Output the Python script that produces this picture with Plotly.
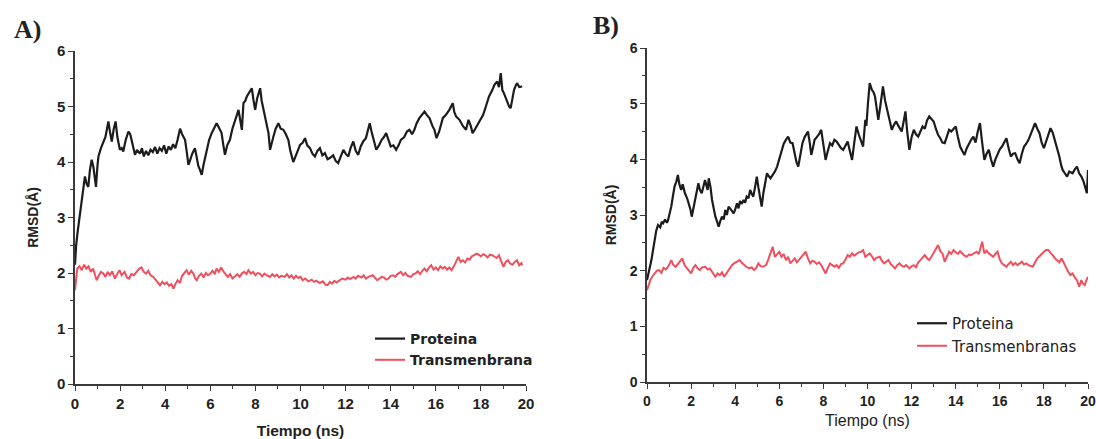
import plotly.graph_objects as go

# ---------------- Panel A data ----------------
time_a_prot = [0.0,0.05,0.12,0.2,0.28,0.37,0.44,0.52,0.59,0.66,0.74,0.82,0.88,0.93,1.0,1.04,1.15,1.26,1.35,1.42,1.48,1.55,1.63,1.72,1.8,1.88,1.95,1.99,2.07,2.14,2.25,2.37,2.45,2.51,2.6,2.66,2.75,2.88,2.97,3.05,3.15,3.25,3.35,3.45,3.55,3.65,3.75,3.85,3.95,4.05,4.15,4.25,4.35,4.45,4.55,4.66,4.75,4.88,4.95,5.03,5.12,5.2,5.32,5.4,5.47,5.55,5.62,5.7,5.78,5.84,5.95,6.06,6.15,6.28,6.38,6.5,6.58,6.65,6.75,6.87,6.98,7.1,7.18,7.25,7.32,7.4,7.47,7.55,7.62,7.72,7.84,7.92,7.99,8.08,8.21,8.28,8.36,8.45,8.58,8.65,8.72,8.8,8.9,9.02,9.12,9.24,9.35,9.46,9.55,9.68,9.78,9.9,9.98,10.1,10.2,10.3,10.42,10.53,10.64,10.75,10.86,10.97,11.08,11.2,11.3,11.45,11.56,11.67,11.78,11.9,12.0,12.12,12.22,12.34,12.45,12.56,12.67,12.78,12.9,12.98,13.07,13.15,13.25,13.36,13.48,13.6,13.7,13.8,13.9,14.0,14.12,14.24,14.35,14.45,14.6,14.72,14.83,14.95,15.05,15.15,15.27,15.4,15.5,15.6,15.72,15.85,15.94,16.03,16.15,16.31,16.45,16.6,16.75,16.82,16.9,17.05,17.2,17.34,17.45,17.55,17.63,17.75,17.85,18.0,18.1,18.22,18.36,18.51,18.6,18.72,18.8,18.88,18.95,19.02,19.1,19.17,19.25,19.32,19.4,19.47,19.55,19.61,19.7,19.83]
rmsd_a_prot = [2.15,2.5,2.75,3.0,3.15,3.44,3.74,3.6,3.55,3.85,4.04,3.9,3.75,3.55,3.95,4.1,4.25,4.37,4.45,4.6,4.73,4.55,4.37,4.6,4.73,4.45,4.3,4.22,4.25,4.19,4.4,4.55,4.5,4.4,4.25,4.13,4.22,4.15,4.25,4.1,4.2,4.12,4.22,4.18,4.27,4.15,4.25,4.2,4.3,4.15,4.28,4.22,4.32,4.25,4.4,4.6,4.5,4.4,4.2,3.95,4.05,4.15,4.25,4.1,3.93,3.85,3.77,3.95,4.1,4.22,4.4,4.52,4.6,4.7,4.62,4.52,4.3,4.13,4.3,4.4,4.6,4.73,4.85,4.94,4.75,4.58,5.06,5.1,5.18,5.25,5.33,5.1,4.94,5.15,5.33,5.1,4.94,4.75,4.52,4.22,4.35,4.46,4.6,4.7,4.6,4.58,4.5,4.4,4.2,4.0,4.1,4.22,4.31,4.35,4.43,4.3,4.25,4.15,4.1,4.2,4.25,4.12,4.16,4.05,4.07,4.12,4.02,3.98,4.1,4.22,4.15,4.1,4.25,4.37,4.2,4.13,4.28,4.37,4.43,4.55,4.7,4.55,4.4,4.22,4.3,4.4,4.45,4.52,4.4,4.28,4.3,4.22,4.3,4.4,4.45,4.55,4.58,4.5,4.58,4.7,4.79,4.85,4.91,4.85,4.79,4.65,4.58,4.43,4.55,4.79,4.85,4.94,5.06,4.9,4.82,4.76,4.65,4.58,4.76,4.65,4.52,4.6,4.67,4.76,4.85,5.0,5.18,5.3,5.39,5.45,5.35,5.6,5.3,5.24,5.15,5.09,5.0,4.97,5.15,5.3,5.38,5.42,5.35,5.36]

time_a_tm = [0.0,0.05,0.1,0.2,0.3,0.4,0.5,0.6,0.7,0.8,0.88,0.96,1.05,1.15,1.26,1.35,1.45,1.55,1.65,1.77,1.87,1.97,2.07,2.2,2.3,2.4,2.5,2.62,2.75,2.85,2.95,3.05,3.15,3.25,3.35,3.47,3.57,3.67,3.77,3.87,3.97,4.07,4.17,4.27,4.36,4.45,4.55,4.65,4.75,4.85,4.95,5.05,5.15,5.25,5.33,5.4,5.5,5.6,5.7,5.8,5.9,6.0,6.1,6.2,6.28,6.38,6.48,6.58,6.68,6.78,6.88,6.98,7.1,7.2,7.3,7.4,7.5,7.6,7.69,7.8,7.9,8.0,8.1,8.2,8.3,8.4,8.5,8.65,8.75,8.85,8.95,9.05,9.15,9.3,9.4,9.5,9.6,9.7,9.8,9.9,10.0,10.1,10.2,10.35,10.5,10.6,10.7,10.85,11.0,11.1,11.2,11.3,11.4,11.5,11.6,11.75,11.85,12.0,12.1,12.2,12.35,12.45,12.55,12.7,12.8,12.9,13.05,13.2,13.3,13.4,13.5,13.6,13.7,13.8,13.9,14.0,14.1,14.2,14.3,14.45,14.55,14.65,14.75,14.9,15.0,15.1,15.2,15.3,15.4,15.5,15.6,15.7,15.8,15.9,16.0,16.1,16.2,16.3,16.4,16.5,16.6,16.7,16.8,16.9,17.0,17.1,17.2,17.3,17.4,17.5,17.6,17.7,17.8,17.9,18.0,18.1,18.2,18.3,18.4,18.5,18.6,18.7,18.8,18.9,19.0,19.1,19.2,19.3,19.4,19.5,19.6,19.7,19.8,19.83]
rmsd_a_tm = [1.69,1.95,2.08,2.12,2.05,2.15,2.08,2.12,2.02,2.08,1.98,1.87,1.95,2.02,1.99,1.93,2.02,1.96,2.03,1.9,1.98,2.05,1.96,2.02,1.92,1.9,1.98,1.96,2.03,2.08,2.1,2.02,1.99,2.04,1.96,1.93,1.88,1.82,1.78,1.84,1.8,1.83,1.77,1.8,1.72,1.8,1.87,1.82,1.95,2.0,2.05,1.97,2.04,1.99,1.9,1.87,1.95,1.99,1.92,2.0,1.96,1.99,2.04,1.98,2.08,2.02,2.1,2.03,1.98,1.93,1.98,1.9,1.94,1.98,1.93,1.99,2.02,1.98,2.05,1.99,2.02,1.96,2.0,1.99,1.94,1.99,1.96,1.93,1.98,1.94,1.97,1.92,1.95,1.93,1.98,1.92,1.96,1.9,1.95,1.91,1.93,1.87,1.9,1.85,1.88,1.84,1.86,1.82,1.85,1.79,1.78,1.84,1.81,1.86,1.83,1.87,1.9,1.88,1.92,1.89,1.93,1.9,1.95,1.92,1.96,1.9,1.94,1.96,1.92,1.87,1.9,1.93,1.92,1.88,1.9,1.95,1.96,1.93,1.98,2.02,1.96,2.0,1.95,1.93,1.98,1.99,2.03,1.98,2.04,2.08,2.03,2.1,2.14,2.06,2.1,2.05,2.12,2.08,2.11,2.06,2.1,2.05,2.12,2.2,2.29,2.2,2.23,2.19,2.26,2.24,2.3,2.32,2.35,2.33,2.3,2.34,2.32,2.28,2.33,2.32,2.3,2.27,2.32,2.23,2.11,2.2,2.23,2.17,2.15,2.2,2.23,2.14,2.18,2.14]

# ---------------- Panel B data ----------------
time_b_prot = [0.0,0.08,0.15,0.2,0.28,0.35,0.42,0.5,0.6,0.67,0.73,0.82,0.9,0.95,1.02,1.1,1.18,1.25,1.33,1.4,1.47,1.55,1.62,1.72,1.82,1.9,1.97,2.03,2.1,2.18,2.25,2.33,2.4,2.48,2.55,2.63,2.7,2.75,2.8,2.88,2.95,3.02,3.1,3.18,3.25,3.33,3.4,3.48,3.55,3.62,3.7,3.8,3.93,4.0,4.08,4.15,4.22,4.3,4.38,4.45,4.52,4.6,4.68,4.75,4.82,4.9,4.98,5.05,5.12,5.2,5.28,5.36,5.44,5.52,5.6,5.7,5.8,5.9,6.0,6.1,6.2,6.3,6.4,6.5,6.6,6.7,6.78,6.86,6.95,7.05,7.15,7.22,7.3,7.38,7.45,7.52,7.6,7.7,7.8,7.9,7.98,8.05,8.1,8.2,8.3,8.4,8.5,8.6,8.7,8.8,8.9,9.0,9.1,9.2,9.3,9.4,9.5,9.6,9.7,9.8,9.9,9.95,10.02,10.1,10.2,10.28,10.34,10.42,10.49,10.58,10.65,10.7,10.8,10.9,11.0,11.1,11.2,11.3,11.4,11.55,11.65,11.72,11.8,11.9,12.0,12.1,12.2,12.3,12.4,12.5,12.6,12.7,12.8,12.9,13.0,13.1,13.2,13.3,13.4,13.5,13.6,13.7,13.8,13.9,14.0,14.1,14.2,14.3,14.4,14.5,14.6,14.7,14.8,14.9,15.0,15.1,15.2,15.3,15.4,15.5,15.6,15.7,15.8,15.9,16.0,16.1,16.2,16.3,16.4,16.5,16.6,16.7,16.8,16.9,17.0,17.1,17.2,17.3,17.4,17.5,17.6,17.7,17.8,17.9,18.0,18.1,18.2,18.3,18.4,18.5,18.6,18.7,18.78,18.85,18.95,19.05,19.15,19.3,19.4,19.5,19.6,19.7,19.8,19.85,19.95,20.0]
rmsd_b_prot = [1.83,1.95,2.1,2.19,2.4,2.61,2.72,2.82,2.78,2.88,2.85,2.92,2.86,2.9,3.0,3.15,3.35,3.51,3.6,3.72,3.55,3.45,3.55,3.39,3.3,3.21,3.1,2.97,3.1,3.27,3.4,3.57,3.45,3.39,3.5,3.63,3.52,3.45,3.66,3.5,3.27,3.1,2.97,2.88,2.79,2.9,2.97,2.92,3.09,3.0,3.15,3.1,3.03,3.1,3.21,3.12,3.25,3.2,3.27,3.22,3.33,3.3,3.45,3.38,3.33,3.5,3.69,3.5,3.3,3.15,3.4,3.6,3.75,3.7,3.66,3.72,3.78,3.87,4.0,4.17,4.28,4.35,4.41,4.3,4.29,4.1,3.95,3.87,4.1,4.29,4.4,4.45,4.5,4.3,4.08,4.2,4.35,4.4,4.45,4.53,4.3,4.1,3.99,4.15,4.29,4.25,4.35,4.32,4.25,4.2,4.17,4.25,4.32,4.15,3.99,4.3,4.59,4.45,4.35,4.23,4.71,4.6,5.0,5.37,5.25,5.2,5.13,4.9,4.71,4.95,5.2,5.31,5.05,4.89,4.7,4.53,4.62,4.68,4.6,4.5,4.7,4.86,4.5,4.17,4.4,4.53,4.45,4.41,4.5,4.59,4.55,4.7,4.77,4.72,4.68,4.55,4.44,4.38,4.3,4.29,4.42,4.53,4.5,4.55,4.59,4.4,4.23,4.15,4.08,4.2,4.29,4.35,4.41,4.3,4.5,4.65,4.3,3.99,4.1,4.17,4.0,3.87,4.0,4.11,4.18,4.23,4.3,4.38,4.2,4.05,4.1,4.11,4.0,3.93,4.1,4.23,4.28,4.35,4.45,4.55,4.65,4.55,4.47,4.3,4.2,4.32,4.45,4.56,4.48,4.35,4.2,4.05,3.9,3.81,3.75,3.69,3.78,3.75,3.82,3.87,3.75,3.69,3.6,3.51,3.39,3.81]

time_b_tm = [0.0,0.08,0.15,0.25,0.35,0.45,0.55,0.65,0.75,0.85,0.9,1.0,1.1,1.2,1.3,1.4,1.5,1.6,1.7,1.8,1.9,2.0,2.1,2.2,2.3,2.4,2.5,2.65,2.75,2.85,2.95,3.1,3.2,3.3,3.4,3.5,3.6,3.75,3.85,3.95,4.05,4.2,4.3,4.4,4.5,4.65,4.75,4.85,4.95,5.05,5.15,5.25,5.4,5.5,5.6,5.7,5.8,5.9,6.0,6.1,6.2,6.3,6.4,6.5,6.6,6.7,6.8,6.9,7.0,7.1,7.2,7.3,7.4,7.5,7.6,7.7,7.8,7.9,8.0,8.1,8.2,8.3,8.4,8.5,8.6,8.7,8.8,8.9,9.0,9.1,9.2,9.3,9.4,9.5,9.6,9.7,9.8,9.9,10.0,10.1,10.2,10.3,10.4,10.56,10.65,10.75,10.85,10.95,11.05,11.15,11.25,11.35,11.45,11.55,11.65,11.75,11.9,12.0,12.1,12.2,12.3,12.4,12.5,12.6,12.7,12.8,12.9,13.0,13.1,13.2,13.3,13.4,13.5,13.6,13.7,13.8,13.9,14.0,14.1,14.2,14.3,14.4,14.5,14.6,14.7,14.8,14.95,15.05,15.15,15.2,15.3,15.4,15.5,15.6,15.7,15.8,15.9,16.0,16.1,16.2,16.3,16.4,16.5,16.6,16.7,16.8,16.9,17.0,17.1,17.2,17.3,17.4,17.5,17.6,17.7,17.8,17.9,18.0,18.1,18.2,18.3,18.4,18.5,18.6,18.7,18.8,18.9,19.0,19.1,19.2,19.3,19.4,19.5,19.6,19.7,19.75,19.85,19.92,20.0]
rmsd_b_tm = [1.65,1.75,1.83,1.9,1.95,2.0,2.01,1.96,2.05,2.02,2.04,2.1,2.19,2.1,2.07,2.12,2.18,2.22,2.1,2.04,2.0,1.95,2.05,2.1,2.04,2.01,2.06,2.07,2.02,2.04,1.98,1.89,1.95,1.92,1.97,1.89,1.95,2.04,2.1,2.13,2.16,2.19,2.14,2.1,2.07,2.04,2.06,2.01,2.05,2.13,2.08,2.07,2.1,2.2,2.3,2.43,2.25,2.3,2.34,2.25,2.3,2.19,2.25,2.13,2.18,2.22,2.15,2.2,2.25,2.3,2.34,2.22,2.13,2.18,2.16,2.12,2.15,2.1,2.02,1.95,2.05,2.13,2.1,2.07,2.1,2.05,2.12,2.13,2.2,2.28,2.25,2.31,2.27,2.3,2.33,2.34,2.37,2.25,2.28,2.31,2.26,2.19,2.23,2.25,2.18,2.13,2.16,2.19,2.12,2.08,2.04,2.1,2.13,2.09,2.07,2.1,2.04,2.08,2.1,2.06,2.15,2.19,2.24,2.28,2.22,2.19,2.25,2.32,2.4,2.46,2.35,2.31,2.16,2.25,2.34,2.3,2.37,2.33,2.3,2.35,2.31,2.27,2.25,2.29,2.28,2.3,2.34,2.3,2.45,2.52,2.31,2.36,2.31,2.28,2.25,2.3,2.34,2.2,2.13,2.1,2.07,2.12,2.16,2.1,2.14,2.1,2.13,2.16,2.11,2.13,2.1,2.08,2.07,2.15,2.22,2.26,2.31,2.34,2.37,2.37,2.32,2.28,2.22,2.19,2.15,2.22,2.13,2.07,1.98,1.92,1.95,1.88,1.83,1.71,1.83,1.78,1.74,1.82,1.89]

x_ticks = [0, 2, 4, 6, 8, 10, 12, 14, 16, 18, 20]
y_ticks = [0, 1, 2, 3, 4, 5, 6]
legend_a = ["Proteina", "Transmenbrana"]
legend_b = ["Proteina", "Transmenbranas"]
panel_labels = ["A)", "B)"]

BLACK = "#1c1c1c"
RED = "#f0505e"
AXC = "#3a3a3a"
SANS = "Liberation Sans, Arial, sans-serif"
WIDE = "DejaVu Sans, Verdana, sans-serif"
SERIF = "Liberation Serif, Times New Roman, serif"

# the page body margin is removed by a post-script, so figure = whole window
W, H = 1096, 439


def PX(px):
    return px / W


def PY(py):
    return 1 - py / H


fig = go.Figure()
fig.add_trace(go.Scatter(x=time_a_prot, y=rmsd_a_prot, mode="lines", name=legend_a[0],
                         line=dict(color=BLACK, width=2.2), xaxis="x", yaxis="y", legend="legend"))
fig.add_trace(go.Scatter(x=time_a_tm, y=rmsd_a_tm, mode="lines", name=legend_a[1],
                         line=dict(color=RED, width=2), xaxis="x", yaxis="y", legend="legend"))
fig.add_trace(go.Scatter(x=time_b_prot, y=rmsd_b_prot, mode="lines", name=legend_b[0],
                         line=dict(color=BLACK, width=2.2), xaxis="x2", yaxis="y2", legend="legend2"))
fig.add_trace(go.Scatter(x=time_b_tm, y=rmsd_b_tm, mode="lines", name=legend_b[1],
                         line=dict(color=RED, width=2), xaxis="x2", yaxis="y2", legend="legend2"))


def xaxis(domain, anchor, tick_size, title_size, title_weight, standoff):
    return dict(domain=domain, anchor=anchor, range=[0, 20], tickvals=x_ticks,
                showline=True, linecolor=AXC, linewidth=1.5, showgrid=False, zeroline=False,
                ticks="outside", ticklen=5, tickwidth=1.3, tickcolor=AXC,
                minor=dict(ticks="outside", ticklen=3, tickwidth=1.2, tickcolor=AXC, dtick=1),
                tickfont=dict(family=SANS, size=tick_size, color="#222", weight="bold"),
                title=dict(text="Tiempo (ns)", standoff=standoff,
                           font=dict(family=SANS, size=title_size, color="#222", weight=title_weight)),
                automargin=False, fixedrange=True)


def yaxis(domain, anchor, tick_size, standoff):
    return dict(domain=domain, anchor=anchor, range=[0, 6], tickvals=y_ticks,
                showline=True, linecolor=AXC, linewidth=1.5, showgrid=False, zeroline=False,
                ticks="outside", ticklen=5, tickwidth=1.3, tickcolor=AXC,
                minor=dict(ticks="outside", ticklen=3, tickwidth=1.2, tickcolor=AXC, dtick=0.5),
                tickfont=dict(family=SANS, size=tick_size, color="#222", weight="bold"),
                title=dict(text="RMSD(Å)", standoff=standoff,
                           font=dict(family=SANS, size=14, color="#222", weight="bold")),
                automargin=False, fixedrange=True)


fig.update_layout(
    width=W, height=H,
    margin=dict(l=0, r=0, t=0, b=0),
    paper_bgcolor="white", plot_bgcolor="white",
    xaxis=xaxis([PX(75), PX(526)], "y", 15, 15.5, "bold", 15),
    yaxis=yaxis([PY(384), PY(51)], "x", 15, 15),
    xaxis2=xaxis([PX(647), PX(1088)], "y2", 14, 16, "normal", 7),
    yaxis2=yaxis([PY(382), PY(48)], "x2", 14, 10),
    legend=dict(x=PX(370), y=PY(323), xanchor="left", yanchor="top",
                bgcolor="rgba(0,0,0,0)", tracegroupgap=0, itemwidth=30,
                font=dict(family=WIDE, size=14, color="#222", weight="bold")),
    legend2=dict(x=PX(912), y=PY(307), xanchor="left", yanchor="top",
                 bgcolor="rgba(0,0,0,0)", tracegroupgap=0, itemwidth=30,
                 font=dict(family=WIDE, size=15, color="#222")),
    annotations=[
        dict(text=panel_labels[0], x=PX(27), y=PY(29), xref="paper", yref="paper",
             xanchor="center", yanchor="middle", showarrow=False,
             font=dict(family=SERIF, size=26, color="#222", weight="bold")),
        dict(text=panel_labels[1], x=PX(606), y=PY(25), xref="paper", yref="paper",
             xanchor="center", yanchor="middle", showarrow=False,
             font=dict(family=SERIF, size=26, color="#222", weight="bold")),
    ],
    showlegend=True,
)

fig.write_html(
    "out.html",
    config={"displayModeBar": False},
    post_script="document.body.style.margin='0';document.body.style.overflow='hidden';",
)
